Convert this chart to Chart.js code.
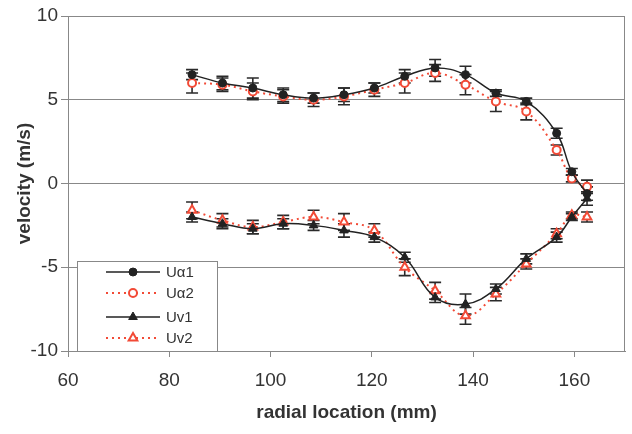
<!DOCTYPE html>
<html>
<head>
<meta charset="utf-8">
<script src="https://cdn.jsdelivr.net/npm/chart.js@4/dist/chart.umd.min.js"></script>
<style>
  body { margin: 0; background: #fff; }
  #wrap { width: 632px; height: 434px; }
</style>
</head>
<body>
<div id="wrap"><canvas id="myChart" width="632" height="434"></canvas></div>
<script>
// radial positions (mm) shared by all four series
const radial = [84.5, 90.5, 96.5, 102.5, 108.5, 114.5, 120.5, 126.5, 132.5, 138.5, 144.5, 150.5, 156.5, 159.5, 162.5];

const uAlpha1 = [6.5, 6.0, 5.7, 5.3, 5.1, 5.3, 5.7, 6.4, 6.9, 6.5, 5.4, 4.9, 3.0, 0.7, -0.6];
const uAlpha2 = [6.0, 5.9, 5.5, 5.2, 5.0, 5.2, 5.6, 6.0, 6.6, 5.9, 4.9, 4.3, 2.0, 0.3, -0.2];
const uV1 = [-2.0, -2.4, -2.7, -2.4, -2.5, -2.8, -3.2, -4.4, -6.8, -7.2, -6.3, -4.5, -3.2, -2.0, -0.9];
const uV2 = [-1.6, -2.2, -2.6, -2.3, -2.0, -2.3, -2.8, -5.0, -6.4, -7.9, -6.6, -4.8, -3.0, -1.9, -2.0];

const errAlpha1 = [0.3, 0.4, 0.6, 0.4, 0.3, 0.4, 0.3, 0.4, 0.5, 0.5, 0.2, 0.2, 0.3, 0.2, 0.4];
const errAlpha2 = [0.6, 0.4, 0.5, 0.4, 0.4, 0.5, 0.4, 0.6, 0.5, 0.6, 0.6, 0.5, 0.3, 0.2, 0.4];
const errV1 = [0.3, 0.3, 0.3, 0.3, 0.3, 0.4, 0.3, 0.3, 0.3, 0.6, 0.3, 0.3, 0.3, 0.2, 0.4];
const errV2 = [0.5, 0.4, 0.4, 0.4, 0.4, 0.5, 0.4, 0.5, 0.5, 0.5, 0.4, 0.3, 0.3, 0.2, 0.3];

const xTicks = [60, 80, 100, 120, 140, 160];
const yTicks = [-10, -5, 0, 5, 10];

const black = "#222";
const red = "#f24a36";
const axisGray = "#888";
const textColor = "#333";

function points(ys) {
  return radial.map((x, i) => ({ x: x, y: ys[i] }));
}

function makeSet(label, ys, errs, color, style, filled, dashed) {
  return {
    label: label,
    data: points(ys),
    errors: errs,
    borderColor: color,
    borderWidth: dashed ? 2 : 1.5,
    borderDash: dashed ? [2, 4] : [],
    tension: 0.4,
    pointStyle: style,
    pointRadius: style === "triangle" ? 5 : 4,
    pointBorderColor: color,
    pointBorderWidth: filled ? 1 : 2,
    pointBackgroundColor: filled ? color : "#fff",
    fill: false,
  };
}

const errorBars = {
  id: "errorBars",
  beforeDatasetsDraw(chart) {
    const ctx = chart.ctx;
    const xs = chart.scales.x;
    const ys = chart.scales.y;
    ctx.save();
    ctx.strokeStyle = "#2a2a2a";
    ctx.lineWidth = 1.6;
    chart.data.datasets.forEach((ds) => {
      ds.data.forEach((p, i) => {
        const e = ds.errors[i];
        const px = xs.getPixelForValue(p.x);
        const top = ys.getPixelForValue(p.y + e);
        const bot = ys.getPixelForValue(p.y - e);
        ctx.beginPath();
        ctx.moveTo(px, top);
        ctx.lineTo(px, bot);
        ctx.moveTo(px - 6, top);
        ctx.lineTo(px + 6, top);
        ctx.moveTo(px - 6, bot);
        ctx.lineTo(px + 6, bot);
        ctx.stroke();
      });
    });
    ctx.restore();
  },
};

const frameAndLegend = {
  id: "frameAndLegend",
  afterDraw(chart) {
    const ctx = chart.ctx;
    const a = chart.chartArea;
    ctx.save();
    ctx.strokeStyle = axisGray;
    ctx.lineWidth = 1;
    ctx.strokeRect(a.left + 0.5, a.top + 0.5, a.right - a.left - 1, a.bottom - a.top);

    // legend box
    const bx = 77, by = 261, bw = 140, bh = a.bottom - 261;
    ctx.fillStyle = "#fff";
    ctx.fillRect(bx, by, bw, bh);
    ctx.strokeRect(bx + 0.5, by + 0.5, bw, bh);

    const rows = [272, 293, 317, 338];
    chart.data.datasets.forEach((ds, i) => {
      const y = rows[i];
      ctx.strokeStyle = ds.borderColor;
      ctx.lineWidth = ds.borderWidth;
      ctx.setLineDash(ds.borderDash);
      ctx.beginPath();
      ctx.moveTo(106, y);
      ctx.lineTo(160, y);
      ctx.stroke();
      ctx.setLineDash([]);
      ctx.fillStyle = ds.pointBackgroundColor;
      ctx.strokeStyle = ds.pointBorderColor;
      ctx.lineWidth = ds.pointBorderWidth;
      Chart.helpers.drawPoint(ctx, {
        pointStyle: ds.pointStyle,
        radius: ds.pointRadius,
        rotation: 0,
        borderWidth: ds.pointBorderWidth,
      }, 133, y);
      ctx.fillStyle = textColor;
      ctx.font = "15px 'Liberation Sans', Arial, sans-serif";
      ctx.textBaseline = "middle";
      ctx.textAlign = "left";
      ctx.fillText(ds.label, 166, y + 1);
    });
    ctx.restore();
  },
};

const tickFont = { family: "'Liberation Sans', Arial, sans-serif", size: 19 };
const titleFont = { family: "'Liberation Sans', Arial, sans-serif", size: 19, weight: "bold" };

new Chart(document.getElementById("myChart"), {
  type: "line",
  data: {
    datasets: [
      makeSet("U\u03b11", uAlpha1, errAlpha1, black, "circle", true, false),
      makeSet("U\u03b12", uAlpha2, errAlpha2, red, "circle", false, true),
      makeSet("Uv1", uV1, errV1, black, "triangle", true, false),
      makeSet("Uv2", uV2, errV2, red, "triangle", false, true),
    ],
  },
  options: {
    responsive: false,
    animation: false,
    layout: { padding: { top: 16, right: 6, left: 0, bottom: 0 } },
    plugins: { legend: { display: false }, tooltip: { enabled: false } },
    scales: {
      x: {
        type: "linear",
        min: 60,
        max: 170,
        afterFit(scale) { scale.height = 83; },
        afterBuildTicks(scale) { scale.ticks = xTicks.map((v) => ({ value: v })); },
        grid: { drawOnChartArea: false, color: axisGray, tickLength: 6 },
        border: { color: axisGray },
        ticks: { font: tickFont, color: textColor, padding: 12, maxRotation: 0 },
        title: { display: true, text: "radial location (mm)", font: titleFont, color: textColor, padding: { top: 0, bottom: 10 } },
      },
      y: {
        min: -10,
        max: 10,
        afterFit(scale) { scale.width = 68; },
        afterBuildTicks(scale) { scale.ticks = yTicks.map((v) => ({ value: v })); },
        grid: { color: axisGray, tickLength: 7 },
        border: { color: axisGray },
        ticks: { font: tickFont, color: textColor, padding: 3 },
        title: { display: true, text: "velocity (m/s)", font: titleFont, color: textColor, padding: { top: 13, bottom: 0 } },
      },
    },
  },
  plugins: [errorBars, frameAndLegend],
});
</script>
</body>
</html>
